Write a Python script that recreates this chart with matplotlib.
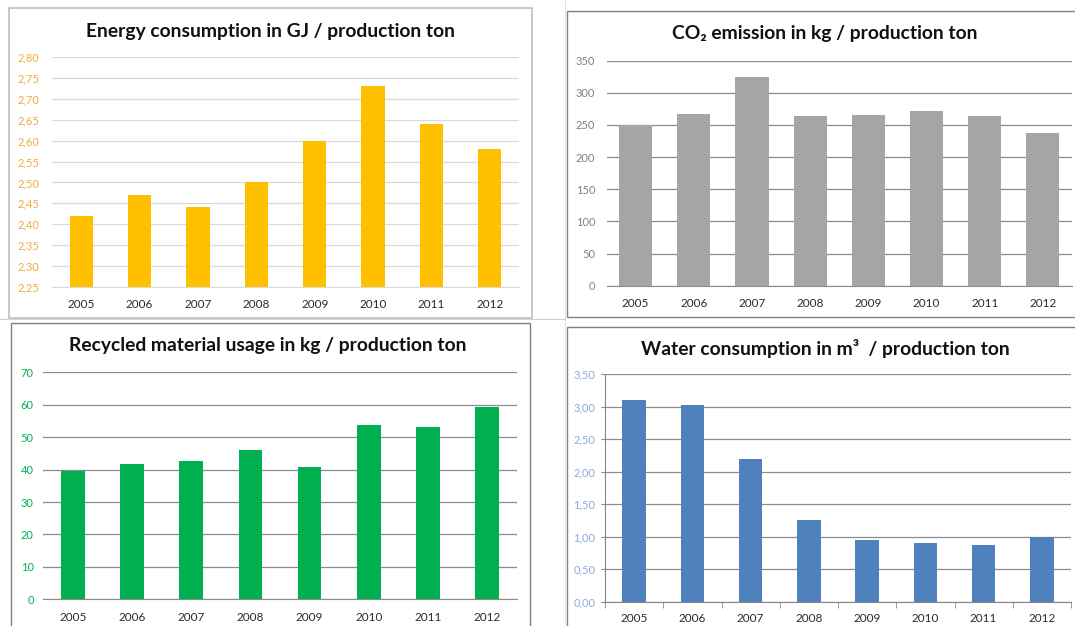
import matplotlib
matplotlib.use("Agg")
import matplotlib.pyplot as plt
from matplotlib.patches import Rectangle
import numpy as np

plt.rcParams['font.family'] = ['Lato', 'DejaVu Sans']

years = ["2005", "2006", "2007", "2008", "2009", "2010", "2011", "2012"]
energy = [2.42, 2.47, 2.44, 2.50, 2.60, 2.73, 2.64, 2.58]
co2 = [250, 267, 325, 264, 265, 272, 264, 238]
recycled = [39.6, 41.6, 42.8, 46.0, 40.9, 53.9, 53.2, 59.2]
water = [3.11, 3.03, 2.20, 1.25, 0.95, 0.91, 0.88, 1.00]

W, H = 1075, 626
fig = plt.figure(figsize=(W / 100, H / 100), dpi=100)


def px_rect(l, t, r, b):
    return [l / W, 1 - b / H, (r - l) / W, (b - t) / H]


def frame(l, t, r, b, color, lw=1.0):
    x, y, w, h = px_rect(l, t, r, b)
    fig.patches.append(Rectangle((x, y), w, h, transform=fig.transFigure,
                                 fill=False, edgecolor=color, lw=lw, zorder=0))


def comma(v, nd):
    return f"{v:.{nd}f}".replace(".", ",")


def panel(rect, values, ylim, step, nd, bar_color, tick_color, grid_color,
          width, ypad, xpad, axis_style=False):
    ax = fig.add_axes(px_rect(*rect))
    x = np.arange(len(years))
    ax.bar(x, values, width=width, color=bar_color, zorder=2)
    ax.set_xlim(-0.5, len(years) - 0.5)
    ax.set_ylim(*ylim)
    yt = np.arange(ylim[0], ylim[1] + step / 2, step)
    ax.set_yticks(yt)
    ax.set_yticklabels([comma(v, nd) for v in yt], color=tick_color, fontsize=8)
    ax.set_xticks(x)
    ax.set_xticklabels(years, color="#2B2B2B", fontsize=8.5)
    ax.yaxis.grid(True, color=grid_color, lw=0.9)
    ax.set_axisbelow(True)
    for s in ["top", "right", "left"]:
        ax.spines[s].set_visible(False)
    ax.spines["bottom"].set_color(grid_color)
    ax.patch.set_alpha(0)
    if axis_style:
        ax.spines["left"].set_visible(True)
        ax.spines["left"].set_color("#868686")
        ax.spines["bottom"].set_color("#868686")
        ax.tick_params(axis="y", length=3, color="#868686", pad=xpad - 3)
        ax.set_xticks(np.arange(-0.5, len(years)), minor=True)
        ax.tick_params(axis="x", which="minor", length=4, color="#868686")
        ax.tick_params(axis="x", which="major", length=0, pad=ypad)
    else:
        ax.tick_params(axis="y", length=0, pad=xpad)
        ax.tick_params(axis="x", length=0, pad=ypad)
    return ax


# faint spreadsheet cell lines behind the charts
fig.add_artist(plt.Line2D([565 / W, 565 / W], [0, 1], color="#E3E3E3", lw=0.8))
fig.add_artist(plt.Line2D([0, 565 / W], [1 - 319 / H, 1 - 319 / H], color="#D0D0D0", lw=0.8))

# panel frames
frame(9, 8, 532, 318, "#BFBFBF", 1.2)
frame(567, 11, 1080, 317, "#808080", 1.0)
frame(11, 323, 530, 630, "#808080", 1.0)
frame(567, 327, 1080, 630, "#808080", 1.0)

title_kw = dict(fontsize=13.9, fontweight="bold", color="#111111",
                ha="center", va="center")
fig.text(271 / W, 1 - 32 / H, "Energy consumption in GJ / production ton", **title_kw)
fig.text(825 / W, 1 - 33 / H, "CO\u2082 emission in kg / production ton", **title_kw)
fig.text(268 / W, 1 - 345 / H, "Recycled material usage in kg / production ton", **title_kw)
fig.text(825 / W, 1 - 348 / H, "Water consumption in m\u00b3  / production ton", **title_kw)

panel((52, 57.3, 519, 286.7), energy, (2.25, 2.80), 0.05, 2,
      "#FFC000", "#F2A93E", "#D9D9D9", 0.40, 9, 9)
panel((606.5, 60.7, 1072, 285.7), co2, (0, 350), 50, 0,
      "#A5A5A5", "#808080", "#8C8C8C", 0.57, 9, 8)
panel((43.4, 372.3, 516.6, 599.3), recycled, (0, 70), 10, 0,
      "#00B050", "#00B050", "#8C8C8C", 0.40, 9, 7)
panel((605, 374.3, 1071, 601.7), water, (0, 3.5), 0.5, 2,
      "#4F81BD", "#8EA9DB", "#8C8C8C", 0.40, 8, 7, axis_style=True)

fig.savefig("out.png", dpi=100)
